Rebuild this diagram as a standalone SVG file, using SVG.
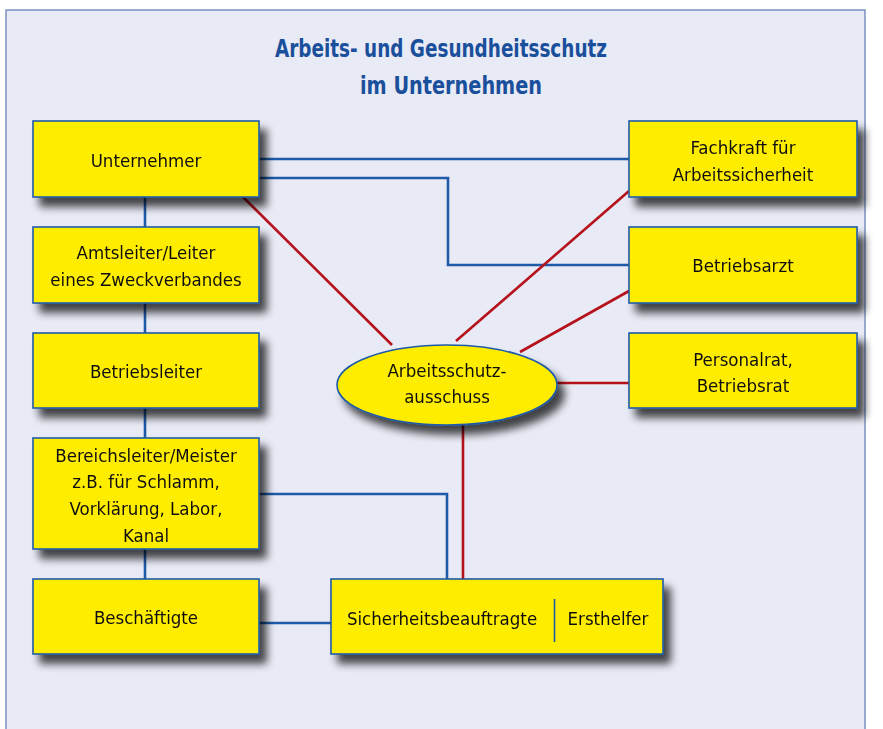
<svg xmlns="http://www.w3.org/2000/svg" width="883" height="729" viewBox="0 0 883 729">
<style>
.bg{fill:#E8EAF5;stroke:#5B79B0;stroke-width:1.2}
.box{fill:#FFED00;stroke:#1E5AA8;stroke-width:1.6}
.t{font-family:"DejaVu Sans Condensed","DejaVu Sans",sans-serif;font-stretch:condensed;font-size:18.5px;fill:#111;text-anchor:middle}
.title{font-family:"DejaVu Sans Condensed","DejaVu Sans",sans-serif;font-stretch:condensed;font-weight:bold;font-size:25px;fill:#1A4F9C;text-anchor:middle}
.bl{fill:none;stroke:#1E5AA8;stroke-width:2.6}
.rl{fill:none;stroke:#B5121B;stroke-width:2.6}
</style>
<defs>
<filter id="sh" x="-20%" y="-30%" width="150%" height="170%">
<feGaussianBlur in="SourceAlpha" stdDeviation="4.5"/>
<feOffset dx="7" dy="9" result="b"/>
<feComponentTransfer><feFuncA type="linear" slope="0.72"/></feComponentTransfer>
<feMerge><feMergeNode/><feMergeNode in="SourceGraphic"/></feMerge>
</filter>
</defs>
<rect x="0" y="0" width="883" height="729" fill="#FFFFFF"/>
<rect class="bg" x="6" y="10" width="859" height="730"/>
<g id="title">
<text class="title" x="441" y="57" textLength="332" lengthAdjust="spacingAndGlyphs">Arbeits- und Gesundheitsschutz</text>
<text class="title" x="451" y="94" textLength="182" lengthAdjust="spacingAndGlyphs">im Unternehmen</text>
</g>
<g id="connectors">
<path class="bl" d="M145 197V227M145 303V333M145 408V438M145 549V579"/>
<path class="bl" d="M259 159H629"/>
<path class="bl" d="M259 178H448V265H629"/>
<path class="bl" d="M259 494H447V579"/>
<path class="bl" d="M259 623H331"/>
<path class="rl" d="M243 197L392 345"/>
<path class="rl" d="M629 191L456 341"/>
<path class="rl" d="M629 291L520 352"/>
<path class="rl" d="M556 383H629"/>
<path class="rl" d="M463 424V579"/>
</g>
<g id="unternehmer" filter="url(#sh)">
<rect class="box" x="33" y="121" width="226" height="76"/>
<text class="t" x="146" y="167">Unternehmer</text>
</g>
<g id="amtsleiter" filter="url(#sh)">
<rect class="box" x="33" y="227" width="226" height="76"/>
<text class="t" x="146" y="259">Amtsleiter/Leiter</text>
<text class="t" x="146" y="286">eines Zweckverbandes</text>
</g>
<g id="betriebsleiter" filter="url(#sh)">
<rect class="box" x="33" y="333" width="226" height="75"/>
<text class="t" x="146" y="378">Betriebsleiter</text>
</g>
<g id="bereichsleiter" filter="url(#sh)">
<rect class="box" x="33" y="438" width="226" height="111"/>
<text class="t" x="146" y="462">Bereichsleiter/Meister</text>
<text class="t" x="146" y="488">z.B. für Schlamm,</text>
<text class="t" x="146" y="515">Vorklärung, Labor,</text>
<text class="t" x="146" y="542">Kanal</text>
</g>
<g id="beschaeftigte" filter="url(#sh)">
<rect class="box" x="33" y="579" width="226" height="75"/>
<text class="t" x="146" y="624">Beschäftigte</text>
</g>
<g id="fachkraft" filter="url(#sh)">
<rect class="box" x="629" y="121" width="228" height="76"/>
<text class="t" x="743" y="154">Fachkraft für</text>
<text class="t" x="743" y="181">Arbeitssicherheit</text>
</g>
<g id="betriebsarzt" filter="url(#sh)">
<rect class="box" x="629" y="227" width="228" height="76"/>
<text class="t" x="743" y="272">Betriebsarzt</text>
</g>
<g id="personalrat" filter="url(#sh)">
<rect class="box" x="629" y="333" width="228" height="75"/>
<text class="t" x="743" y="366">Personalrat,</text>
<text class="t" x="743" y="392">Betriebsrat</text>
</g>
<g id="ausschuss" filter="url(#sh)">
<ellipse class="box" cx="447" cy="385" rx="110" ry="40"/>
<text class="t" x="447" y="377">Arbeitsschutz-</text>
<text class="t" x="447" y="403">ausschuss</text>
</g>
<g id="sicherheit" filter="url(#sh)">
<rect class="box" x="331" y="579" width="332" height="75"/>
<text class="t" x="442" y="625">Sicherheitsbeauftragte</text>
<path d="M554.5 599V642" fill="none" stroke="#1E5AA8" stroke-width="1.6"/>
<text class="t" x="608" y="625">Ersthelfer</text>
</g>
</svg>
